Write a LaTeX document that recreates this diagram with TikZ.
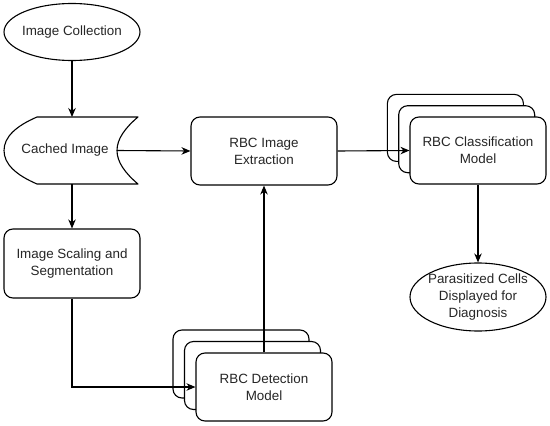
\documentclass[tikz,border=0pt]{standalone}
\usepackage{fontspec}
\setmainfont{Liberation Sans}
\usetikzlibrary{shapes.geometric,arrows.meta}
\begin{document}
\begin{tikzpicture}[x=1pt,y=-1pt,
  every node/.style={font=\fontsize{13.4}{16.8}\selectfont, align=center, inner sep=0pt, text=black!85},
  lw/.style={line width=1.1pt, draw=black},
  oval/.style={lw, ellipse, minimum width=136pt, minimum height=57pt},
  rbox/.style={lw, fill=white, rounded corners=9pt, minimum width=136pt, minimum height=68pt},
  conn/.style={lw, -{Stealth[length=9pt,width=7.5pt]}},
  ]
\useasboundingbox (0,0) rectangle (550,426);

% Image Collection
\node[oval] (coll) at (72,32) {};
\node (colltext) at (coll.center) {Image Collection};

% Cached Image (stored data shape)
\draw[lw, line join=round] (37,117) -- (138,117)
  .. controls (125,128) and (117,139) .. (117,150.5)
  .. controls (117,162) and (125,173) .. (138,184)
  -- (37,184)
  .. controls (16,175) and (4,164) .. (4,150.5)
  .. controls (4,137) and (16,126) .. (37,117) -- cycle;
\node (cached) at (65,150.5) {Cached Image};
\coordinate (cachedN) at (72,117);
\coordinate (cachedS) at (72,184);
\coordinate (cachedE) at (117,150.5);

% Image Scaling and Segmentation
\node[rbox, minimum height=69pt] (scale) at (72,263.5) {Image Scaling and\\Segmentation};

% RBC Image Extraction
\node[rbox, minimum width=146pt] (ext) at (264,151) {RBC Image\\Extraction};

% RBC Classification Model (stacked)
\node[rbox, minimum height=67pt] (clsB) at (455.4,127.9) {};
\node[rbox, minimum height=67pt] (clsM) at (466.7,139.2) {};
\node[rbox, minimum height=67pt] (cls) at (478,150.5) {RBC Classification\\Model};

% RBC Detection Model (stacked)
\node[rbox] (detB) at (241,364) {};
\node[rbox] (detM) at (252.5,375.5) {};
\node[rbox] (det) at (264,387) {RBC Detection\\Model};

% Output ellipse
\node[oval, minimum height=68pt] (out) at (478,297) {};
\node (outtext) at (out.center) {Parasitized Cells\\Displayed for\\Diagnosis};

% Connectors
\draw[conn] (coll.south) -- (cachedN);
\draw[conn] (cachedE) -- (ext.west);
\draw[conn] (cachedS) -- (scale.north);
\draw[conn] (scale.south) |- (det.west);
\draw[conn] (det.north) -- (ext.south);
\draw[conn] (ext.east) -- (cls.west);
\draw[conn] (cls.south) -- (out.north);
\end{tikzpicture}
\end{document}
